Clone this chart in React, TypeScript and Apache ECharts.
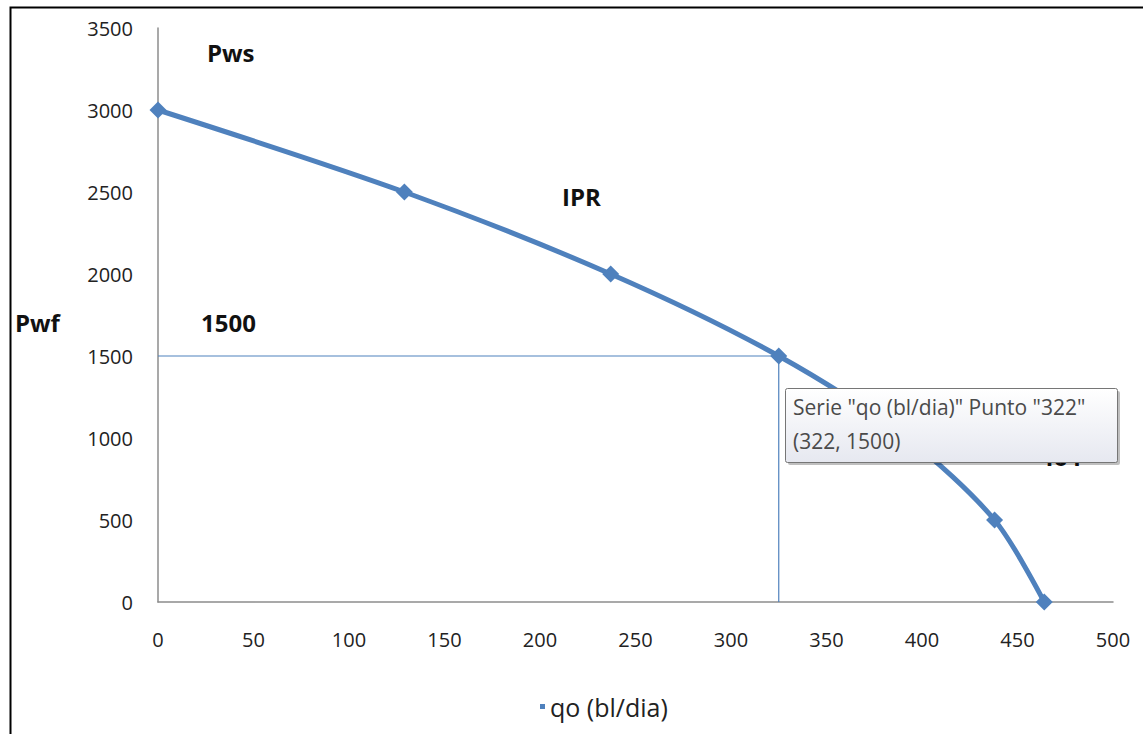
import React, { useEffect, useRef } from "react";
import * as echarts from "echarts";

const qo = [0, 129, 237, 325, 392, 438, 464];
const pwf = [3000, 2500, 2000, 1500, 1000, 500, 0];
const guideQ = [0, 325, 325];
const guideP = [1500, 1500, 0];
const xTicks = { min: 0, max: 500, interval: 50 };
const yTicks = { min: 0, max: 3500, interval: 500 };
const seriesName = "qo (bl/dia)";
const tooltipLines = ['Serie "qo (bl/dia)" Punto "322"', "(322, 1500)"];

export default function App() {
  const ref = useRef<HTMLDivElement>(null);
  useEffect(() => {
    if (!ref.current) return;
    const chart = echarts.init(ref.current, null, { renderer: "svg" });
    const font = "'Open Sans', 'DejaVu Sans', sans-serif";
    const boldFont = "'Open Sans', 'Liberation Sans', sans-serif";
    chart.setOption({
      animation: false,
      backgroundColor: "#ffffff",
      grid: { left: 158, right: 30, top: 28, bottom: 132 },
      xAxis: {
        type: "value",
        min: xTicks.min,
        max: xTicks.max,
        interval: xTicks.interval,
        axisLine: { show: true, lineStyle: { color: "#8c8c8c", width: 1.5 } },
        axisTick: { show: false },
        splitLine: { show: false },
        axisLabel: { color: "#222", fontSize: 20, fontFamily: font, margin: 27, formatter: (v: number) => String(v) },
      },
      yAxis: {
        type: "value",
        min: yTicks.min,
        max: yTicks.max,
        interval: yTicks.interval,
        axisLine: { show: true, lineStyle: { color: "#8c8c8c", width: 1.5 } },
        axisTick: { show: false },
        splitLine: { show: false },
        axisLabel: { color: "#222", fontSize: 20, fontFamily: font, margin: 25, formatter: (v: number) => String(v) },
      },
      legend: {
        left: 535,
        top: 689,
        itemWidth: 5,
        itemHeight: 5,
        itemGap: 2,
        icon: "rect",
        data: [seriesName],
        textStyle: { fontSize: 25, color: "#222", fontFamily: font },
      },
      series: [
        {
          name: "guide",
          type: "line",
          data: guideQ.map((q, i) => [q, guideP[i]]),
          symbol: "none",
          lineStyle: { color: "#4f81bd", width: 1.2 },
          z: 1,
        },
        {
          name: seriesName,
          type: "line",
          data: qo.map((q, i) => [q, pwf[i]]),
          smooth: 0.3,
          symbol: "diamond",
          symbolSize: 17,
          lineStyle: { color: "#4f81bd", width: 5 },
          itemStyle: { color: "#4f81bd" },
          z: 3,
        },
      ],
      graphic: [
        {
          type: "rect",
          left: 8,
          top: 5,
          shape: { width: 1160, height: 760 },
          style: { fill: "none", stroke: "#000", lineWidth: 2 },
          z: 0,
        },
        { type: "text", left: 207, top: 40, style: { text: "Pws", font: `bold 24px ${boldFont}`, fill: "#111" }, z: 10 },
        { type: "text", left: 562, top: 184, style: { text: "IPR", font: `bold 24px ${boldFont}`, fill: "#111" }, z: 10 },
        { type: "text", left: 201, top: 310, style: { text: "1500", font: `bold 24px ${boldFont}`, fill: "#111" }, z: 10 },
        { type: "text", left: 15, top: 310, style: { text: "Pwf", font: `bold 24px ${boldFont}`, fill: "#111" }, z: 10 },
        { type: "text", left: 1040, top: 444, style: { text: "464", font: `bold 24px ${boldFont}`, fill: "#111" }, z: 10 },
        {
          type: "rect",
          left: 788,
          top: 391,
          shape: { width: 332, height: 74, r: 2 },
          style: { fill: "rgba(0,0,0,0.25)" },
          z: 19,
        },
        {
          type: "rect",
          left: 785,
          top: 388,
          shape: { width: 332, height: 74, r: 2 },
          style: {
            fill: new echarts.graphic.LinearGradient(0, 0, 0, 1, [
              { offset: 0, color: "#ffffff" },
              { offset: 1, color: "#e6e8f0" },
            ]),
            stroke: "#767676",
            lineWidth: 1,
          },
          z: 20,
        },
        { type: "text", left: 793, top: 396, style: { text: tooltipLines[0], font: `21px ${font}`, fill: "#4a4a4a" }, z: 21 },
        { type: "text", left: 793, top: 430, style: { text: tooltipLines[1], font: `21px ${font}`, fill: "#4a4a4a" }, z: 21 },
      ],
    });
    return () => chart.dispose();
  }, []);
  return <div ref={ref} style={{ position: "fixed", left: 0, top: 0, width: 1143, height: 734 }} />;
}
